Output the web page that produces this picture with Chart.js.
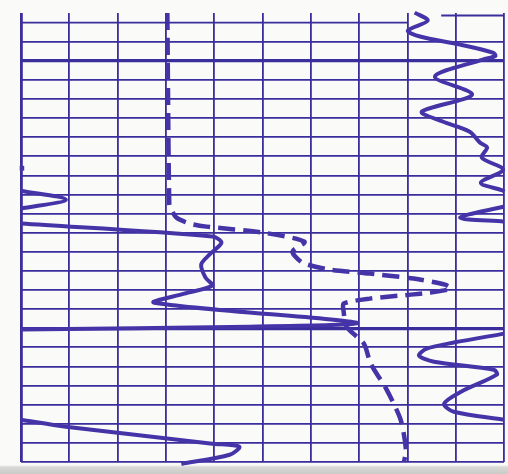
<!DOCTYPE html>
<html>
<head>
<meta charset="utf-8">
<script src="https://cdn.jsdelivr.net/npm/chart.js@4"></script>
<style>
  html, body { margin: 0; padding: 0; }
  body {
    width: 508px; height: 474px; overflow: hidden;
    background: linear-gradient(to bottom, #fafaf8 0px, #fafaf8 465px, #d9d9d7 467px, #c9c9c7 474px);
  }
  #wrap { position: relative; width: 508px; height: 474px; }
</style>
</head>
<body>
<div id="wrap"><canvas id="logChart"></canvas></div>
<script>
// grid divisions (track units across, depth rows down)
const gridCols = [0, 1, 2, 3, 4, 5, 6, 7, 8, 9, 10];
const gridRows = [1, 2, 3, 4, 5, 6, 7, 8, 9, 10, 11, 12, 13, 14, 15, 16, 17, 18, 19, 20, 21, 22, 23];
const heavyRows = [2, 16];

// top border pieces (left part of row 0, raised piece over the right track)
const topLeftX = [0, 8.0];
const topLeftDepth = [0, 0];
const topRightX = [8.7, 10];
const topRightDepth = [-0.37, -0.37];

// dashed curve
const spX = [3.03, 3.07, 3.11, 3.22, 3.49, 3.84, 5.00, 5.87, 5.62, 5.83, 6.39, 7.22, 8.13, 8.78, 8.90, 8.46, 8.07, 7.22, 6.68, 6.68, 6.74, 7.10, 7.24, 7.57, 7.86, 7.97, 7.93];
const spDepth = [-0.5, 9.53, 9.79, 10.21, 10.52, 10.68, 10.99, 11.47, 11.99, 12.57, 12.93, 13.14, 13.40, 13.72, 13.93, 14.14, 14.24, 14.45, 14.71, 15.13, 15.92, 16.81, 17.85, 19.21, 20.79, 22.36, 23];

// solid curve, pieces
const resBlobX = [0.02, 0.02];
const resBlobDepth = [7.5, 7.75];

const resVX = [0, 0.93, 0];
const resVDepth = [8.80, 9.27, 9.74];

const resMainX = [0, 3.96, 4.15, 3.90, 3.73, 3.82, 3.96, 3.38, 2.76, 6.95, 4.73, 0];
const resMainDepth = [10.52, 11.20, 11.52, 12.15, 12.67, 13.35, 13.77, 14.19, 14.66, 15.71, 15.92, 16.07];

const resRightX = [10, 8.96, 8.40, 8.24, 8.55, 9.79, 9.85, 9.11, 8.76, 8.96, 10];
const resRightDepth = [16.28, 16.75, 17.07, 17.43, 17.75, 18.17, 18.43, 19.32, 19.95, 20.37, 20.79];

const resBottomX = [0, 0.93, 3.96, 4.52, 4.32, 3.32];
const resBottomDepth = [20.79, 21.15, 22.04, 22.20, 22.62, 23.1];

const resTopX = [8.15, 8.42, 8.01, 8.26, 9.09, 9.77, 9.82, 9.56, 8.57, 9.34, 8.30, 8.73, 9.29, 9.50, 9.65, 9.54, 9.98, 9.52, 9.98, 10];
const resTopDepth = [-0.52, -0.10, 0.42, 0.73, 1.15, 1.57, 1.75, 1.94, 2.83, 3.77, 4.66, 5.18, 5.71, 6.28, 6.54, 7.07, 7.70, 8.38, 8.80, 8.85];

const resSigmaX = [10, 9.09, 10];
const resSigmaDepth = [9.63, 10.21, 10.42];

const gridColor = '#3a2d9c';
const inkColor = '#4534a8';

const pts = (xs, ds) => xs.map((x, i) => ({ x: x, y: ds[i] }));

const solid = (xs, ds, w) => ({
  data: pts(xs, ds),
  showLine: true,
  borderColor: inkColor,
  borderWidth: w || 4,
  pointRadius: 0,
  tension: 0.3,
  fill: false,
  clip: false
});

const datasets = [
  Object.assign(solid(topLeftX, topLeftDepth, 1.8), { borderColor: gridColor, tension: 0 }),
  Object.assign(solid(topRightX, topRightDepth, 2), { borderColor: gridColor, tension: 0 }),
  Object.assign(solid(spX, spDepth, 4.5), { borderDash: [17, 8], tension: 0.25 }),
  solid(resBlobX, resBlobDepth, 4.5),
  solid(resVX, resVDepth),
  solid(resMainX, resMainDepth),
  solid(resRightX, resRightDepth),
  solid(resBottomX, resBottomDepth),
  solid(resTopX, resTopDepth),
  solid(resSigmaX, resSigmaDepth)
];

new Chart(document.getElementById('logChart').getContext('2d'), {
  type: 'scatter',
  data: { datasets: datasets },
  options: {
    responsive: true,
    maintainAspectRatio: false,
    animation: false,
    layout: { padding: { left: 21, right: 4, top: 13, bottom: 12 } },
    plugins: { legend: { display: false }, tooltip: { enabled: false } },
    scales: {
      x: {
        type: 'linear',
        min: 0,
        max: 10,
        afterBuildTicks: s => { s.ticks = gridCols.map(v => ({ value: v })); },
        ticks: { display: false },
        border: { display: false },
        grid: {
          color: gridColor,
          lineWidth: c => (c.tick && c.tick.value === 0 ? 2.8 : 1.8),
          drawTicks: false
        }
      },
      y: {
        type: 'linear',
        reverse: true,
        min: -0.5,
        max: 23,
        afterBuildTicks: s => { s.ticks = gridRows.map(v => ({ value: v })); },
        ticks: { display: false },
        border: { display: false },
        grid: {
          color: gridColor,
          lineWidth: c => (c.tick && heavyRows.includes(c.tick.value) ? 3.2 : 1.8),
          drawTicks: false
        }
      }
    }
  }
});
</script>
</body>
</html>
